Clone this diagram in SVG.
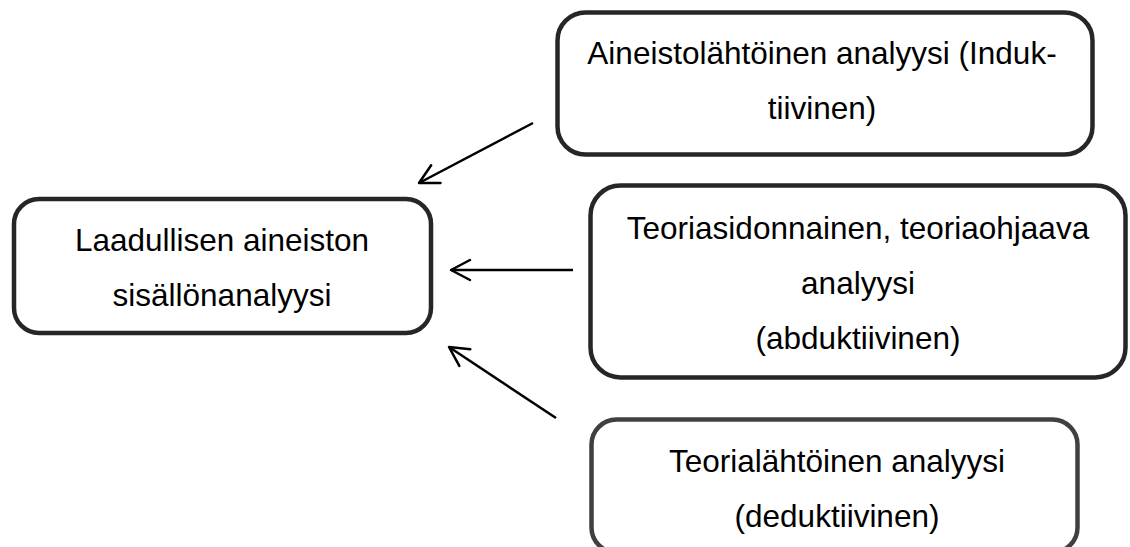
<svg xmlns="http://www.w3.org/2000/svg" width="1130" height="547" viewBox="0 0 1130 547">
  <style>
    .box { fill: #ffffff; stroke: #262626; stroke-width: 4.5; }
    .box2 { fill: #ffffff; stroke: #404040; stroke-width: 4.5; }
    .lbl { font-family: "Liberation Sans", Arial, sans-serif; font-size: 31.5px; fill: #000000; text-anchor: middle; }
    .conn { stroke: #000000; stroke-width: 2.5; fill: none; marker-end: url(#arr); }
  </style>
  <defs>
    <marker id="arr" markerUnits="userSpaceOnUse" markerWidth="30" markerHeight="30" refX="0" refY="0" viewBox="-22 -15 30 30" orient="auto" overflow="visible">
      <path d="M -19,-10 L 0,0 L -19,10" fill="none" stroke="#000000" stroke-width="2.5" stroke-linecap="round" stroke-linejoin="round"/>
    </marker>
  </defs>
  <rect x="0" y="0" width="1130" height="547" fill="#ffffff"/>

  <g id="connectors">
    <line class="conn" x1="533" y1="123" x2="419" y2="183"/>
    <line class="conn" x1="573" y1="270" x2="451" y2="270"/>
    <line class="conn" x1="556" y1="418" x2="449" y2="347"/>
  </g>

  <g id="node-laadullinen">
    <rect class="box" x="14" y="199" width="417" height="134" rx="25" ry="25"/>
    <text class="lbl" x="222" y="251">Laadullisen aineiston</text>
    <text class="lbl" x="222" y="306">sisällönanalyysi</text>
  </g>

  <g id="node-aineistolahtoinen">
    <rect class="box" x="557.5" y="12.5" width="535" height="142" rx="28" ry="28"/>
    <text class="lbl" x="822" y="64">Aineistolähtöinen analyysi (Induk-</text>
    <text class="lbl" x="822" y="119">tiivinen)</text>
  </g>

  <g id="node-teoriasidonnainen">
    <rect class="box" x="590.5" y="185.5" width="535" height="192" rx="30" ry="30"/>
    <text class="lbl" x="858" y="239">Teoriasidonnainen, teoriaohjaava</text>
    <text class="lbl" x="858" y="294">analyysi</text>
    <text class="lbl" x="858" y="349">(abduktiivinen)</text>
  </g>

  <g id="node-teorialahtoinen">
    <rect class="box2" x="591.5" y="419.5" width="486" height="133" rx="25" ry="25"/>
    <text class="lbl" x="837" y="472">Teorialähtöinen analyysi</text>
    <text class="lbl" x="837" y="527">(deduktiivinen)</text>
  </g>
</svg>
